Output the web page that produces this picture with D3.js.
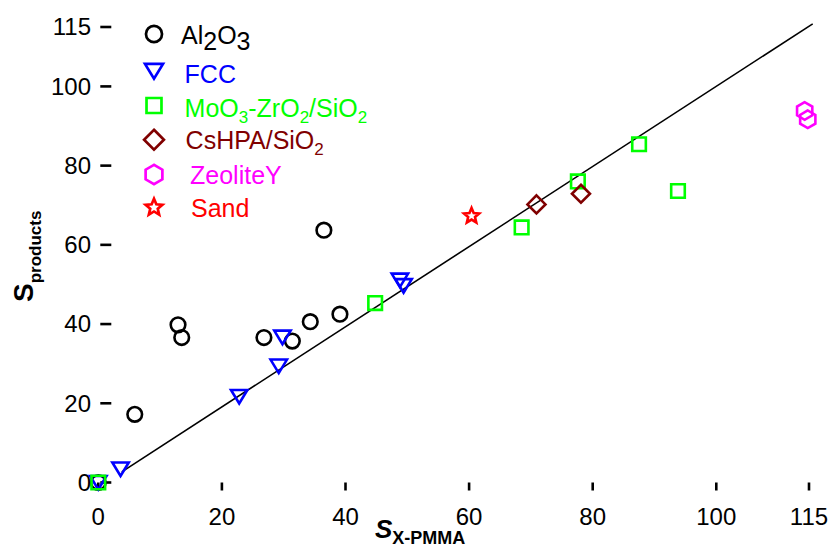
<!DOCTYPE html>
<html>
<head>
<meta charset="utf-8">
<script src="https://cdn.jsdelivr.net/npm/d3@7"></script>
<style>
  html, body { margin: 0; padding: 0; background: #fff; }
  svg { display: block; font-family: "Liberation Sans", Arial, sans-serif; }
</style>
</head>
<body>
<svg id="chart" width="830" height="554"></svg>
<script>
// Selectivity of products vs. selectivity of X-PMMA for each catalyst
const al2o3X = [0, 5.9, 12.9, 13.5, 26.8, 31.4, 34.3, 39.1, 36.5];
const al2o3Y = [0, 17.2, 39.8, 36.6, 36.6, 35.7, 40.6, 42.5, 63.7];

const fccX = [0, 3.6, 22.8, 29.2, 29.8, 48.8, 49.4];
const fccY = [0, 3.4, 21.7, 29.4, 36.7, 51.1, 49.7];

const moX = [0, 44.8, 68.5, 77.6, 87.5, 93.8];
const moY = [0, 45.3, 64.4, 76.0, 85.4, 73.6];

const cshpaX = [70.9, 78.1];
const cshpaY = [70.2, 72.9];

const zeoX = [114.3, 114.8];
const zeoY = [93.8, 91.7];

const sandX = [60.4];
const sandY = [67.3];

// reference line (parity)
const lineX = [3.8, 115.6];
const lineY = [2.7, 115.8];

const xTicks = [0, 20, 40, 60, 80, 100, 115];
const yTicks = [0, 20, 40, 60, 80, 100, 115];

const svg = d3.select("#chart");
const x = d3.scaleLinear().domain([0, 115]).range([98.3, 809]);
const y = d3.scaleLinear().domain([0, 115]).range([482.5, 27]);

// marker path builders (local coordinates, centred on 0,0)
const markers = {
  circle: s => { const r = 7.3 * s; return `M${r},0A${r},${r} 0 1,1 ${-r},0A${r},${r} 0 1,1 ${r},0Z`; },
  triDown: s => `M${-8.2*s},${-6.5*s}L${8.2*s},${-6.5*s}L0,${7*s}Z`,
  square: s => { const h = 6.8 * s; return `M${-h},${-h}H${h}V${h}H${-h}Z`; },
  diamond: s => { const h = 9 * s; return `M0,${-h}L${h},0L0,${h}L${-h},0Z`; },
  hexagon: s => {
    const r = 8.8 * s;
    return d3.range(6).map((i, k) => {
      const a = Math.PI / 2 + i * Math.PI / 3;
      return (k ? "L" : "M") + (r * Math.cos(a)).toFixed(2) + "," + (-r * Math.sin(a)).toFixed(2);
    }).join("") + "Z";
  },
  star: s => {
    const ro = 8 * s, ri = 3.6 * s;
    return d3.range(10).map((i, k) => {
      const r = i % 2 ? ri : ro;
      const a = -Math.PI / 2 + i * Math.PI / 5;
      return (k ? "L" : "M") + (r * Math.cos(a)).toFixed(2) + "," + (r * Math.sin(a)).toFixed(2);
    }).join("") + "Z";
  }
};

const series = [
  { name: "Al2O3", xs: al2o3X, ys: al2o3Y, color: "#000000", shape: "circle" },
  { name: "FCC", xs: fccX, ys: fccY, color: "#0000ff", shape: "triDown" },
  { name: "MoO3-ZrO2/SiO2", xs: moX, ys: moY, color: "#00ff00", shape: "square" },
  { name: "CsHPA/SiO2", xs: cshpaX, ys: cshpaY, color: "#800000", shape: "diamond" },
  { name: "ZeoliteY", xs: zeoX, ys: zeoY, color: "#ff00ff", shape: "hexagon" },
  { name: "Sand", xs: sandX, ys: sandY, color: "#ff0000", shape: "star" }
];

// ticks: y ticks sit just right of x=0, x ticks just below y=0
const yAxisG = svg.append("g");
yTicks.forEach(t => {
  yAxisG.append("line")
    .attr("x1", x(0) + 2).attr("x2", x(0) + 13)
    .attr("y1", y(t)).attr("y2", y(t))
    .attr("stroke", "#000").attr("stroke-width", 2.6);
  yAxisG.append("text")
    .attr("x", 91).attr("y", y(t) + 8.4)
    .attr("text-anchor", "end")
    .attr("font-size", 24)
    .text(t);
});
const xAxisG = svg.append("g");
xTicks.forEach(t => {
  xAxisG.append("line")
    .attr("x1", x(t)).attr("x2", x(t))
    .attr("y1", y(0)).attr("y2", y(0) + 8)
    .attr("stroke", "#000").attr("stroke-width", 2.6);
  xAxisG.append("text")
    .attr("x", x(t)).attr("y", 525)
    .attr("text-anchor", "middle")
    .attr("font-size", 24)
    .text(t);
});

// parity line
svg.append("line")
  .attr("x1", x(lineX[0])).attr("y1", y(lineY[0]))
  .attr("x2", x(lineX[1])).attr("y2", y(lineY[1]))
  .attr("stroke", "#000").attr("stroke-width", 1.6);

// data markers
series.forEach(s => {
  svg.append("g").selectAll("path")
    .data(s.xs.map((v, i) => [v, s.ys[i]]))
    .join("path")
    .attr("transform", d => `translate(${x(d[0])},${y(d[1])})`)
    .attr("d", markers[s.shape](1))
    .attr("fill", "none")
    .attr("stroke", s.color)
    .attr("stroke-width", 2.6)
    .attr("stroke-linejoin", "miter");
});

// legend
const legendMarkerY = [34, 71, 105.5, 139.7, 174.5, 207.5];
const legendTextY = [44, 83, 117, 149, 183.6, 216.8];
const legendTextX = [181, 184.6, 184.6, 185.6, 190, 191];
// label pieces: [text, isSubscript]
const legendParts = [
  [["Al", 0], ["2", 2], ["O", 0], ["3", 2]],
  [["FCC", 0]],
  [["MoO", 0], ["3", 1], ["-ZrO", 0], ["2", 1], ["/SiO", 0], ["2", 1]],
  [["CsHPA/SiO", 0], ["2", 1]],
  [["ZeoliteY", 0]],
  [["Sand", 0]]
];
const leg = svg.append("g");
series.forEach((s, i) => {
  leg.append("path")
    .attr("transform", `translate(154,${legendMarkerY[i]})`)
    .attr("d", markers[s.shape](1.1))
    .attr("fill", "none")
    .attr("stroke", s.color)
    .attr("stroke-width", 2.7);
  const t = leg.append("text")
    .attr("x", legendTextX[i]).attr("y", legendTextY[i])
    .attr("font-size", 25)
    .attr("fill", s.color);
  let shifted = false;
  legendParts[i].forEach(([txt, sub]) => {
    const ts = t.append("tspan").text(txt);
    if (sub) {
      ts.attr("font-size", sub === 2 ? 25 : 17);
      if (!shifted) { ts.attr("dy", 6); shifted = true; }
    } else if (shifted) {
      ts.attr("dy", -6); shifted = false;
    }
  });
});

// axis titles
const xt = svg.append("text")
  .attr("x", 375).attr("y", 538)
  .attr("font-weight", "bold");
xt.append("tspan").attr("font-size", 26).attr("font-style", "italic").text("S");
xt.append("tspan").attr("font-size", 18).attr("dy", 6).text("X-PMMA");

const yt = svg.append("text")
  .attr("transform", "translate(33,302) rotate(-90)")
  .attr("font-weight", "bold");
yt.append("tspan").attr("font-size", 28).text("S");
yt.append("tspan").attr("font-size", 17).attr("dy", 8).text("products");
</script>
</body>
</html>
